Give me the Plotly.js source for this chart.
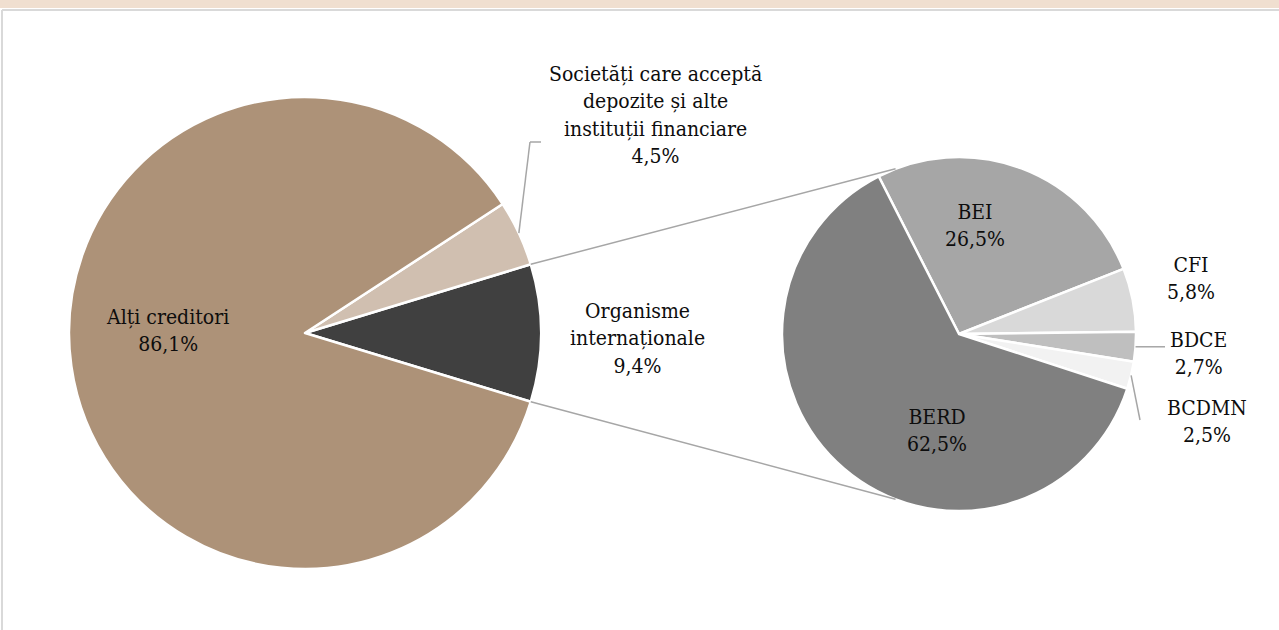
<!DOCTYPE html>
<html>
<head>
<meta charset="utf-8">
<script src="https://cdn.plot.ly/plotly-3.0.1.min.js"></script>
<style>html,body{margin:0;padding:0;background:#fff;}#chart{width:1279px;height:630px;}</style>
</head>
<body>
<div id="chart"></div>
<script>
// ---- data ----
const mainLabels = ['Organisme internaționale', 'Societăți care acceptă depozite și alte instituții financiare', 'Alți creditori'];
const mainDisplay = ['Organisme<br>internaționale', 'Societăți care acceptă<br>depozite și alte<br>instituții financiare', 'Alți creditori'];
const mainValues = [9.4, 4.5, 86.1];
const mainColors = ['#404040', '#d0bfb0', '#ad9278'];

const subLabels = ['BEI', 'CFI', 'BDCE', 'BCDMN', 'BERD'];
const subValues = [26.5, 5.8, 2.7, 2.5, 62.5];
const subColors = ['#a6a6a6', '#d9d9d9', '#bfbfbf', '#f2f2f2', '#808080'];

// ---- geometry ----
const W = 1279, H = 630;
const L = {cx: 305, cy: 333, r: 236};
const R = {cx: 959, cy: 334, r: 177};
const px = x => x / W;
const py = y => 1 - y / H;
const fmt = v => v.toFixed(1).replace('.', ',') + '%';
const FONT = {family: 'DejaVu Serif Condensed, DejaVu Serif, serif', size: 21, color: '#0d0d0d'};

const mainTotal = mainValues.reduce((a, b) => a + b, 0);
const subTotal = subValues.reduce((a, b) => a + b, 0);
const halfOrg = mainValues[0] / mainTotal * 180;
const mainRot = 90 - halfOrg;   // first slice centred on 3 o'clock
const subRot = -27;

const soc0 = halfOrg, soc1 = halfOrg + mainValues[1] / mainTotal * 360;
const pt = (c, a) => [c.cx + c.r * Math.cos(a * Math.PI / 180), c.cy - c.r * Math.sin(a * Math.PI / 180)];

let subBounds = [];
let a = 90 - subRot;
subValues.forEach(v => { const b = a - v / subTotal * 360; subBounds.push([a, b]); a = b; });

const grey = '#a6a6a6';
function seg(p, q, color, w) {
  return {type: 'line', xref: 'paper', yref: 'paper', x0: px(p[0]), y0: py(p[1]), x1: px(q[0]), y1: py(q[1]), line: {color: color || grey, width: w || 1.5}};
}

const shapes = [];
shapes.push({type: 'rect', xref: 'paper', yref: 'paper', x0: 0, x1: 1, y0: py(8), y1: 1, fillcolor: '#f0dfd0', line: {width: 0}, layer: 'below'});
shapes.push({type: 'line', xref: 'paper', yref: 'paper', x0: px(2), x1: 1, y0: py(10), y1: py(10), line: {color: '#d9d9d9', width: 2}, layer: 'below'});
shapes.push({type: 'line', xref: 'paper', yref: 'paper', x0: px(2), x1: px(2), y0: 0, y1: py(10), line: {color: '#d9d9d9', width: 2}, layer: 'below'});

shapes.push(seg(pt(L, halfOrg), pt(R, 111)));
shapes.push(seg(pt(L, -halfOrg), pt(R, -111)));

const socMid = pt(L, (soc0 + soc1) / 2);
shapes.push(seg(socMid, [530, 142]));
shapes.push(seg([530, 142], [541, 142]));
const bdceMid = pt(R, (subBounds[2][0] + subBounds[2][1]) / 2);
shapes.push(seg(bdceMid, [1165, bdceMid[1]]));
const bcdmnMid = pt(R, (subBounds[3][0] + subBounds[3][1]) / 2);
shapes.push(seg(bcdmnMid, [1140, 420]));

const mainPos = [[637, 338], [655, 115], [167, 330]];
const subPos = [[975, 225], [1191, 278], [1198, 353], [1207, 422], [937, 430]];

const annotations = [];
mainDisplay.forEach((t, i) => annotations.push({xref: 'paper', yref: 'paper', x: px(mainPos[i][0]), y: py(mainPos[i][1]), text: t + '<br>' + fmt(mainValues[i]), showarrow: false, font: FONT, align: 'center', xanchor: 'center', yanchor: 'middle'}));
subLabels.forEach((t, i) => annotations.push({xref: 'paper', yref: 'paper', x: px(subPos[i][0]), y: py(subPos[i][1]), text: t + '<br>' + fmt(subValues[i]), showarrow: false, font: FONT, align: 'center', xanchor: 'center', yanchor: 'middle'}));

const traces = [
  {type: 'pie', labels: mainLabels, values: mainValues, sort: false, direction: 'counterclockwise', rotation: mainRot,
   marker: {colors: mainColors, line: {color: '#ffffff', width: 2.5}}, textinfo: 'none', hoverinfo: 'label+percent',
   domain: {x: [px(L.cx - L.r), px(L.cx + L.r)], y: [py(L.cy + L.r), py(L.cy - L.r)]}},
  {type: 'pie', labels: subLabels, values: subValues, sort: false, direction: 'clockwise', rotation: subRot,
   marker: {colors: subColors, line: {color: '#ffffff', width: 2.5}}, textinfo: 'none', hoverinfo: 'label+percent',
   domain: {x: [px(R.cx - R.r), px(R.cx + R.r)], y: [py(R.cy + R.r), py(R.cy - R.r)]}}
];

Plotly.newPlot('chart', traces, {
  width: W, height: H, margin: {l: 0, r: 0, t: 0, b: 0},
  paper_bgcolor: '#ffffff', plot_bgcolor: '#ffffff', showlegend: false,
  font: FONT, shapes: shapes, annotations: annotations
}, {displayModeBar: false, staticPlot: true});
</script>
</body>
</html>
